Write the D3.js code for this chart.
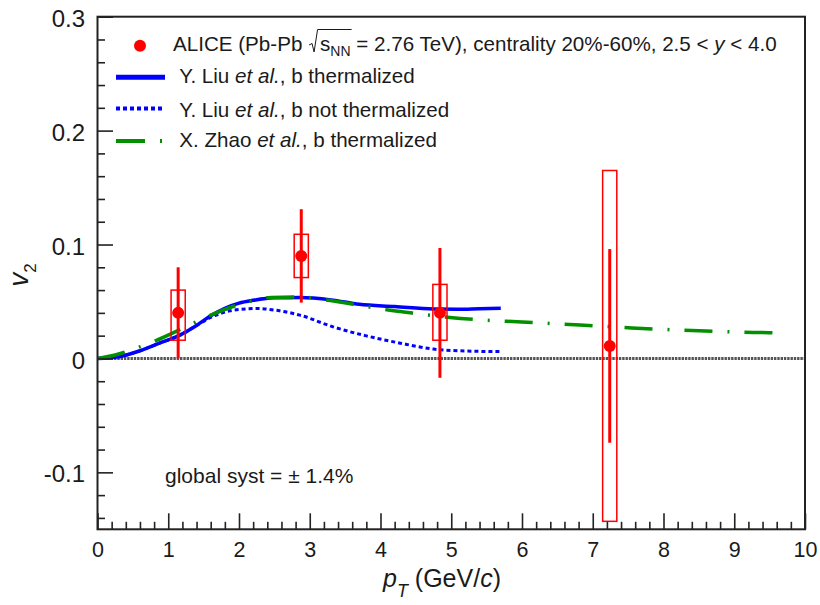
<!DOCTYPE html>
<html>
<head>
<meta charset="utf-8">
<title>J/psi v2 vs pT</title>
<script src="https://d3js.org/d3.v7.min.js"></script>
<style>
  body { margin: 0; background: #fff; }
  text { font-family: "Liberation Sans", Arial, sans-serif; fill: #1a1a1a; white-space: pre; }
</style>
</head>
<body>
<script>

// ALICE data points
var alicePt = [1.14, 2.88, 4.84, 7.24];
var aliceV2 = [0.040, 0.090, 0.040, 0.011];
var aliceStat = [0.040, 0.041, 0.057, 0.085];
var aliceSystLo = [0.016, 0.071, 0.016, -0.143];
var aliceSystHi = [0.060, 0.109, 0.065, 0.165];

// Y. Liu et al., b thermalized
var liuThPt = [0, 0.3, 0.6, 0.9, 1.14, 1.4, 1.6, 1.8, 2.0, 2.2, 2.5, 2.85, 3.3, 3.7, 4.2, 4.75, 5.1, 5.4, 5.7];
var liuThV2 = [0, 0.0015, 0.0067, 0.014, 0.0198, 0.029, 0.0374, 0.044, 0.0485, 0.051, 0.0532, 0.0534, 0.0514, 0.0475, 0.0456, 0.0434, 0.0432, 0.0437, 0.0441];

// Y. Liu et al., b not thermalized
var liuNoPt = [0, 0.3, 0.6, 0.9, 1.14, 1.4, 1.6, 1.87, 2.1, 2.25, 2.5, 2.86, 3.33, 3.8, 4.28, 4.75, 5.2, 5.7];
var liuNoV2 = [0, 0.0015, 0.0067, 0.014, 0.0195, 0.029, 0.036, 0.0418, 0.0435, 0.0438, 0.0425, 0.038, 0.0277, 0.0198, 0.0134, 0.0082, 0.0065, 0.006];

// X. Zhao et al., b thermalized
var zhaoPt = [0, 0.25, 0.5, 0.84, 1.19, 1.6, 1.96, 2.45, 2.83, 3.29, 3.67, 4.16, 4.56, 4.98, 5.38, 6.0, 6.82, 7.55, 8.4, 9.27, 9.69];
var zhaoV2 = [0, 0.003, 0.008, 0.016, 0.026, 0.038, 0.0465, 0.0535, 0.054, 0.0508, 0.047, 0.042, 0.039, 0.036, 0.034, 0.032, 0.0293, 0.0268, 0.0245, 0.0228, 0.0225];

// axis ticks
var xMajor = [0, 1, 2, 3, 4, 5, 6, 7, 8, 9, 10];
var yMajor = [-0.1, 0, 0.1, 0.2, 0.3];

var W = 820, H = 605;
var L = 97.5, R = 805, T = 16.7, B = 529.3;
var red = '#ff0000', blue = '#0000ff', green = '#009000';

var svg = d3.select('body').append('svg')
            .attr('width', W)
            .attr('height', H);

var x = d3.scaleLinear().domain([0, 10]).range([L, R]);
var y = d3.scaleLinear().domain([-0.15, 0.3]).range([B, T]);

// zero line
svg.append('line')
   .attr('x1', x(0)).attr('x2', x(10))
   .attr('y1', y(0)).attr('y2', y(0))
   .attr('stroke', '#555')
   .attr('stroke-width', 3)
   .attr('stroke-dasharray', '2.4,0.9');

// model curves
var line = d3.line()
             .x(function(d) { return x(d[0]); })
             .y(function(d) { return y(d[1]); })
             .curve(d3.curveMonotoneX);

function curve(pt, v2, color, width, dash) {
	svg.append('path')
	   .attr('d', line(d3.zip(pt, v2)))
	   .attr('fill', 'none')
	   .attr('stroke', color)
	   .attr('stroke-width', width)
	   .attr('stroke-dasharray', dash);
}

curve(liuNoPt, liuNoV2, blue, 3, '4,3');
curve(liuThPt, liuThV2, blue, 3.5, null);
curve(zhaoPt, zhaoV2, green, 3.5, '28,15,2,15');

// data: syst boxes, stat bars, markers
var pts = d3.range(alicePt.length);
var boxHalf = 0.1;

svg.selectAll('.syst')
   .data(pts).enter()
   .append('rect')
   .attr('class', 'syst')
   .attr('x', function(i) { return x(alicePt[i] - boxHalf); })
   .attr('width', function(i) { return x(alicePt[i] + boxHalf) - x(alicePt[i] - boxHalf); })
   .attr('y', function(i) { return y(aliceSystHi[i]); })
   .attr('height', function(i) { return y(aliceSystLo[i]) - y(aliceSystHi[i]); })
   .attr('fill', 'none')
   .attr('stroke', red)
   .attr('stroke-width', 1.5);

svg.selectAll('.stat')
   .data(pts).enter()
   .append('line')
   .attr('class', 'stat')
   .attr('x1', function(i) { return x(alicePt[i]); })
   .attr('x2', function(i) { return x(alicePt[i]); })
   .attr('y1', function(i) { return y(aliceV2[i] + aliceStat[i]); })
   .attr('y2', function(i) { return y(aliceV2[i] - aliceStat[i]); })
   .attr('stroke', red)
   .attr('stroke-width', 3);

svg.selectAll('.pt')
   .data(pts).enter()
   .append('circle')
   .attr('class', 'pt')
   .attr('cx', function(i) { return x(alicePt[i]); })
   .attr('cy', function(i) { return y(aliceV2[i]); })
   .attr('r', 6)
   .attr('fill', red);

// axes
var xAxis = svg.append('g')
               .attr('transform', 'translate(0,' + B + ')')
               .call(d3.axisBottom(x).tickValues(xMajor).tickSize(-16).tickPadding(12.5)
                       .tickFormat(function(d) { return String(d); }));
svg.append('g')
   .attr('transform', 'translate(0,' + B + ')')
   .call(d3.axisBottom(x).tickValues(d3.range(0, 10.01, 0.2).filter(function(v) { return Math.abs(v - Math.round(v)) > 0.01; }))
           .tickSize(-7.5).tickFormat(''));

var yAxis = svg.append('g')
               .attr('transform', 'translate(' + L + ',0)')
               .call(d3.axisLeft(y).tickValues(yMajor).tickSize(-15.5).tickPadding(12.5)
                       .tickFormat(function(d) { return String(d); }));
svg.append('g')
   .attr('transform', 'translate(' + L + ',0)')
   .call(d3.axisLeft(y).tickValues(d3.range(-0.14, 0.301, 0.02).filter(function(v) { return Math.abs(v * 10 - Math.round(v * 10)) > 0.01; }))
           .tickSize(-7.5).tickFormat(''));

svg.selectAll('.domain').remove();
svg.selectAll('.tick line').attr('stroke', '#222').attr('stroke-width', 1.6);
xAxis.selectAll('text').style('font-size', '21.5px').attr('fill', '#1a1a1a')
     .style('font-family', '"Liberation Sans", Arial, sans-serif');
yAxis.selectAll('text').style('font-size', '24px').attr('fill', '#1a1a1a').attr('dy', '0.4em')
     .style('font-family', '"Liberation Sans", Arial, sans-serif');

// frame
svg.append('rect')
   .attr('x', L).attr('y', T)
   .attr('width', R - L).attr('height', B - T)
   .attr('fill', 'none')
   .attr('stroke', '#222')
   .attr('stroke-width', 2);

// rich text helper: pieces laid out one after another
function rich(g, x0, y0, parts, size) {
	var cx = x0;
	parts.forEach(function(p) {
		if (p.radical) {
			p.x0 = cx;
			cx += p.w;
			return;
		}
		var t = g.append('text')
		         .attr('x', cx)
		         .attr('y', y0 + (p.dy || 0))
		         .style('font-size', (p.size || size) + 'px')
		         .style('font-style', p.italic ? 'italic' : 'normal')
		         .text(p.t);
		var w = t.node().getComputedTextLength();
		p.x0 = cx;
		p.x1 = cx + w;
		cx += w;
	});
	return parts;
}

// legend
var leg = svg.append('g');
leg.append('circle').attr('cx', 140).attr('cy', 45.7).attr('r', 6).attr('fill', red);

var alice = rich(leg, 173, 50.7, [
	{t: 'ALICE (Pb-Pb '},
	{radical: true, w: 12},
	{t: 's'},
	{t: 'NN', size: 14, dy: 5},
	{t: ' = 2.76 TeV), centrality 20%-60%, 2.5 < '},
	{t: 'y', italic: true},
	{t: ' < 4.0'}
], 20.6);
var rx = alice[1].x0, rEnd = alice[3].x1;
leg.append('path')
   .attr('d', 'M' + (rx + 1) + ',45 L' + (rx + 4) + ',43.5 L' + (rx + 6) + ',52 L' + (rx + 9.5) + ',29.5 L' + (rEnd + 1) + ',29.5')
   .attr('fill', 'none')
   .attr('stroke', '#1a1a1a')
   .attr('stroke-width', 1);

var legLines = [
	{y: 77.3, base: 83.3, color: blue, width: 5, dash: null, who: 'Y. Liu ', what: ', b thermalized'},
	{y: 108.5, base: 116.6, color: blue, width: 4, dash: '4,3', who: 'Y. Liu ', what: ', b not thermalized'},
	{y: 141, base: 147.3, color: green, width: 4, dash: '29,15,2,15', who: 'X. Zhao ', what: ', b thermalized'}
];
legLines.forEach(function(e) {
	leg.append('line')
	   .attr('x1', 116).attr('x2', 165)
	   .attr('y1', e.y).attr('y2', e.y)
	   .attr('stroke', e.color)
	   .attr('stroke-width', e.width)
	   .attr('stroke-dasharray', e.dash);
	rich(leg, 179.3, e.base, [
		{t: e.who},
		{t: 'et al.', italic: true},
		{t: e.what}
	], 20.6);
});

// global syst note
svg.append('text')
   .attr('x', 165).attr('y', 483.3)
   .style('font-size', '21px')
   .text('global syst = \u00b1 1.4%');

// axis titles
var xt = svg.append('g');
rich(xt, 383, 587, [
	{t: 'p', italic: true},
	{t: 'T', italic: true, size: 18, dy: 10},
	{t: ' (GeV/'},
	{t: 'c', italic: true},
	{t: ')'}
], 25);

var yt = svg.append('text')
            .attr('transform', 'translate(28,275) rotate(-90)')
            .attr('text-anchor', 'middle')
            .style('font-size', '28px');
yt.append('tspan').style('font-style', 'italic').text('v');
yt.append('tspan').attr('dy', 8).style('font-size', '17px').text('2');

</script>
</body>
</html>
